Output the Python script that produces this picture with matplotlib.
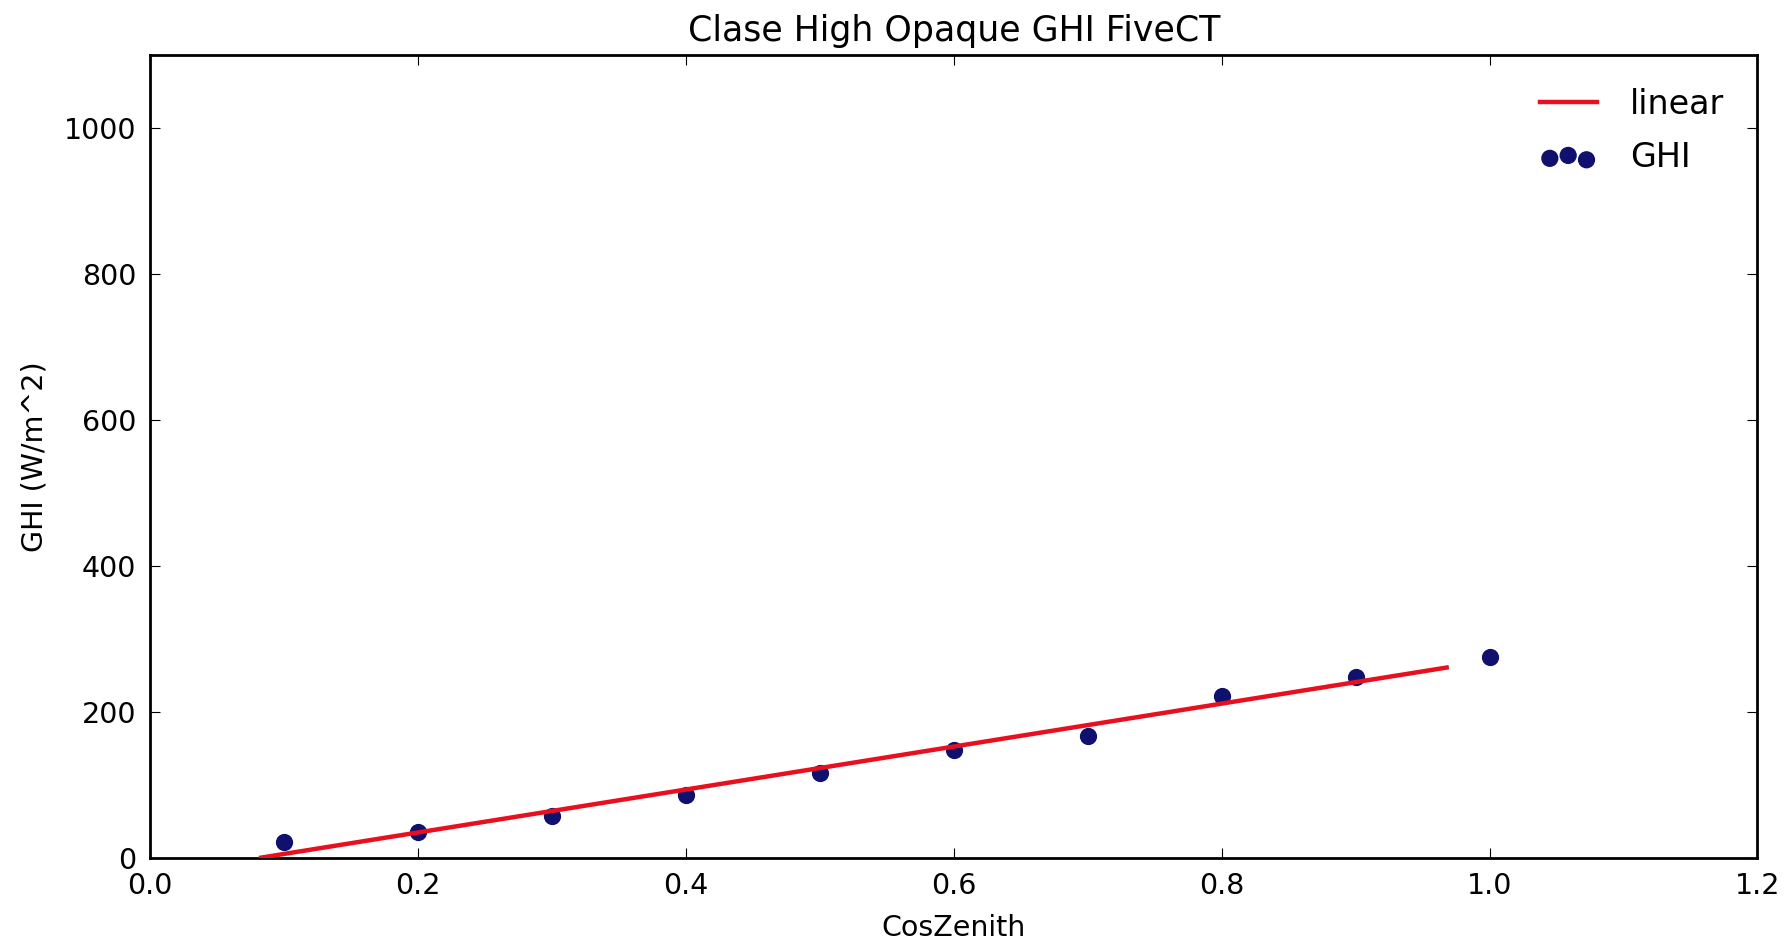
import numpy as np
import matplotlib
matplotlib.use('Agg')
from matplotlib import pyplot as plt

# binned GHI vs cos(zenith)
cos_zenith = [0.1, 0.2, 0.3, 0.4, 0.5, 0.6, 0.7, 0.8, 0.9, 1.0]
ghi = [22, 36, 58, 87, 117, 148, 167, 222, 248, 275]
# x extent of the fitted line
fit_x = [0.083, 0.968]

slope, intercept = np.polyfit(cos_zenith, ghi, 1)
fit_x = np.array(fit_x)

fig = plt.figure(figsize=(17.86, 9.44), dpi=100)
ax = fig.add_axes([0.084, 0.091, 0.9, 0.851])

ax.plot(fit_x, slope * fit_x + intercept, color='#e8101e', lw=3.2, label='linear', zorder=3)
ax.scatter(cos_zenith, ghi, s=130, color='#10106e', label='GHI', zorder=2)

ax.set_xlim(0, 1.2)
ax.set_ylim(0, 1100)
ax.set_xticks(np.arange(0, 1.21, 0.2))
ax.set_yticks(range(0, 1001, 200))
ax.tick_params(direction='in', top=True, right=True, length=7, labelsize=20.5, pad=10)
for s in ax.spines.values():
    s.set_linewidth(2)

ax.set_title('Clase High Opaque GHI FiveCT', fontsize=25, pad=10)
ax.set_xlabel('CosZenith', fontsize=20.5, labelpad=10)
ax.set_ylabel('GHI (W/m^2)', fontsize=20.5, labelpad=11)

ax.legend(loc='upper right', frameon=False, fontsize=24, scatterpoints=3,
          scatteryoffsets=[0.375, 0.5, 0.3125], handlelength=1.7, handletextpad=1.0,
          labelspacing=0.6, borderaxespad=0.6)

fig.savefig('out.png', dpi=100)
